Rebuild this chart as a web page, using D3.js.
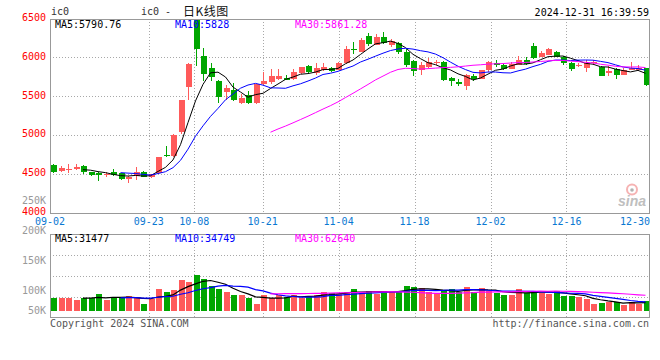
<!DOCTYPE html>
<html><head><meta charset="utf-8">
<script src="https://cdn.jsdelivr.net/npm/d3@7"></script>
<style>body{margin:0;background:#fff}svg{display:block}</style>
</head><body>
<svg id="c" width="660" height="360"></svg>
<script>
// ---------- data ----------
const dates = ["09-02","09-03","09-04","09-05","09-06","09-09","09-10","09-11","09-12","09-13",
"09-18","09-19","09-20","09-23","09-24","09-25","09-26","09-27","09-30","10-08",
"10-09","10-10","10-11","10-14","10-15","10-16","10-17","10-18","10-21","10-22",
"10-23","10-24","10-25","10-28","10-29","10-30","10-31","11-01","11-04","11-05",
"11-06","11-07","11-08","11-11","11-12","11-13","11-14","11-15","11-18","11-19",
"11-20","11-21","11-22","11-25","11-26","11-27","11-28","11-29","12-02","12-03",
"12-04","12-05","12-06","12-09","12-10","12-11","12-12","12-13","12-16","12-17",
"12-18","12-19","12-20","12-23","12-24","12-25","12-26","12-27","12-30","12-31"];
const openP = [4614,4532,4540,4562,4601,4514,4506,4481,4523,4506,
4433,4463,4523,4455,4506,4743,4721,5031,5618,6530,
6022,5863,5690,5548,5574,5411,5509,5411,5656,5677,
5721,5741,5721,5798,5893,5798,5832,5863,5841,5928,
6115,6070,6280,6164,6271,6164,6186,6077,5957,5841,
5871,5935,5944,5741,5677,5634,5764,5725,5832,5935,
5905,5850,5905,5970,6142,6005,6035,6065,6000,5935,
5884,5863,5935,5871,5800,5850,5776,5841,5841,5863];
const highP = [4627,4601,4618,4627,4614,4520,4523,4523,4558,4512,
4472,4579,4530,4500,4712,4850,5005,5450,5925,6540,
6129,5935,5711,5647,5669,5531,5561,5660,5806,5850,
5854,5776,5854,5880,5900,5935,5925,5880,5945,6142,
6199,6250,6315,6300,6328,6238,6195,6112,5965,5948,
5992,5965,5950,5750,5728,5790,5780,5840,5960,5970,
5925,5948,6022,6010,6186,6080,6125,6080,6022,5948,
5935,5970,5970,5884,5893,5860,5870,5948,5900,5870];
const lowP = [4510,4514,4506,4549,4493,4463,4398,4450,4463,4420,
4377,4411,4450,4442,4500,4713,4715,5014,5453,5884,
5690,5700,5411,5453,5432,5400,5405,5405,5650,5660,
5715,5705,5715,5790,5800,5770,5825,5810,5835,5920,
6047,6065,6150,6160,6170,6140,6045,5880,5764,5776,
5865,5900,5695,5625,5625,5574,5690,5720,5810,5880,
5840,5845,5900,5905,5980,6000,6030,6000,5900,5820,
5875,5815,5905,5760,5765,5725,5770,5835,5820,5635];
const closeP = [4514,4575,4562,4584,4514,4481,4481,4497,4475,4429,
4455,4523,4455,4493,4708,4721,5001,5444,5919,6109,
5789,5747,5488,5605,5453,5475,5411,5656,5690,5764,
5764,5712,5806,5871,5806,5863,5871,5819,5935,6109,
6105,6229,6173,6264,6186,6207,6077,5905,5828,5905,
5948,5948,5703,5690,5656,5776,5721,5832,5940,5905,
5854,5919,5970,5919,5992,6057,6112,6005,5928,5850,
5905,5935,5948,5764,5830,5770,5840,5863,5863,5640];
const volume = [50300,50300,50300,41600,50300,50300,64300,41600,50300,50300,
56700,54100,26500,44200,83200,71800,79400,117200,109600,136100,
121000,94500,83200,71800,60500,60500,49200,26500,60500,49200,
59400,52900,59400,49200,56700,62400,71800,69200,63100,73000,
83200,69200,75600,66200,75600,73000,75600,94500,90700,87000,
73000,64300,79400,83200,73000,90700,73000,87000,75600,69200,
60500,60500,83200,69200,75600,69200,64300,75600,57800,57800,
52900,45400,26500,30200,35200,35200,22700,35200,26500,38900];
const priceTicks = [4000,4500,5000,5500,6000,6500];
const dateTicks = ["09-02","09-23","10-08","10-21","11-04","11-18","12-02","12-16","12-30"];
const volTickLabels = ["250K","200K","150K","100K","50K"];
const maPeriods = [5,10,30];
const priceMALabels = ["MA5:5790.76","MA10:5828","MA30:5861.28"];
const volMALabels = ["MA5:31477","MA10:34749","MA30:62640"];
const symbol = "ic0";
const titleLeft = "ic0 -";
const titleRight = "日K线图";
const timestamp = "2024-12-31 16:39:59";
const copyright = "Copyright 2024 SINA.COM";
const siteUrl = "http://finance.sina.com.cn";

// ---------- layout ----------
const W = 660, H = 360;
const L = 50, R = 650;
const pTop = 18.8, pBot = 212.2;        // price scale extents
const vTop = 234.5, vBot = 317.5;       // volume panel border
const MONO = "'DejaVu Sans Mono', 'Liberation Mono', monospace";
const UP = "#ff5a5a", DOWN = "#00a600";
const maColors = ["#000000","#0000ff","#ff00ff"];
const GRID = "#a8a8a8", BORDER = "#999999";

const svg = d3.select("#c");
svg.append("rect").attr("width",W).attr("height",H).attr("fill","#fff");

const n = dates.length;
const x = d3.scaleBand().domain(dates).range([L, R]).paddingInner(0).paddingOuter(0);
const xGrid = d3.scaleLinear().domain([0, n-1]).range([L, R]);
const y = d3.scaleLinear().domain([4000, 6500]).range([pBot, pTop]);
const yv = d3.scaleLinear().domain([0, 290000]).range([311, vTop]);
const cx = d => x(d) + 3;

function movingAvg(arr, p){
  const out = [];
  for (let i = p-1; i < arr.length; i++){
    let s = 0; for (let k = i-p+1; k <= i; k++) s += arr[k];
    out.push({i, v: s/p});
  }
  return out;
}

// clip paths
const defs = svg.append("defs");
defs.append("clipPath").attr("id","pc").append("rect").attr("x",L).attr("y",19).attr("width",R-L).attr("height",pBot-19+1);
defs.append("clipPath").attr("id","vc").append("rect").attr("x",L).attr("y",vTop).attr("width",R-L).attr("height",vBot-vTop);

// ---------- grids ----------
const gridIdx = dateTicks.map(t => dates.indexOf(t)).filter(i => xGrid(i) > L+2 && xGrid(i) < R-10);
const g = svg.append("g").attr("shape-rendering","crispEdges").attr("stroke",GRID).attr("stroke-dasharray","1,2").attr("fill","none");
priceTicks.filter(v => v > 4000 && v < 6500).forEach(v => {
  g.append("line").attr("x1",L).attr("x2",R).attr("y1",Math.round(y(v))+0.5).attr("y2",Math.round(y(v))+0.5);
});
gridIdx.forEach(i => {
  const gx = Math.round(xGrid(i))+0.5;
  g.append("line").attr("x1",gx).attr("x2",gx).attr("y1",19).attr("y2",213);
  g.append("line").attr("x1",gx).attr("x2",gx).attr("y1",vTop).attr("y2",vBot);
});
[1,2,3].forEach(k => {
  const gy = Math.round(vTop + k*(vBot-vTop)/4)+0.5;
  g.append("line").attr("x1",L).attr("x2",R).attr("y1",gy).attr("y2",gy);
});

// ---------- candles ----------
const cg = svg.append("g").attr("clip-path","url(#pc)").attr("shape-rendering","crispEdges");
dates.forEach((d,i) => {
  const up = closeP[i] >= openP[i];
  const col = up ? UP : DOWN;
  const c = Math.round(cx(d)) + 0.5;
  cg.append("line").attr("x1",c).attr("x2",c).attr("y1",y(highP[i])).attr("y2",y(lowP[i])).attr("stroke",col);
  const top = y(Math.max(openP[i],closeP[i])), bot = y(Math.min(openP[i],closeP[i]));
  cg.append("rect").attr("x",Math.round(cx(d))-2.5+0.5).attr("width",5.5)
    .attr("y",top).attr("height",Math.max(1,bot-top)).attr("fill",col);
});

// price MAs
const lineGen = d3.line().x(p => cx(dates[p.i])).y(p => y(p.v));
maPeriods.forEach((p,k) => {
  cg.append("path").datum(movingAvg(closeP,p)).attr("d",lineGen)
    .attr("fill","none").attr("stroke",maColors[k]).attr("stroke-width",1).attr("shape-rendering","auto");
});

// ---------- volume ----------
const vg = svg.append("g").attr("clip-path","url(#vc)").attr("shape-rendering","crispEdges");
dates.forEach((d,i) => {
  const up = closeP[i] >= openP[i];
  vg.append("rect").attr("x",Math.round(cx(d))-2.5).attr("width",6)
    .attr("y",yv(volume[i])).attr("height",yv(0)-yv(volume[i])).attr("fill",up?UP:DOWN);
});
const vLine = d3.line().x(p => cx(dates[p.i])).y(p => yv(p.v));
maPeriods.forEach((p,k) => {
  vg.append("path").datum(movingAvg(volume,p)).attr("d",vLine)
    .attr("fill","none").attr("stroke",maColors[k]).attr("stroke-width",1.2).attr("shape-rendering","auto");
});

// ---------- borders ----------
const bg = svg.append("g").attr("fill","none").attr("stroke",BORDER).attr("shape-rendering","crispEdges");
bg.append("rect").attr("x",L+0.5).attr("y",19.5).attr("width",R-L-1).attr("height",213-19.5);
bg.append("rect").attr("x",L+0.5).attr("y",vTop).attr("width",R-L-1).attr("height",vBot-vTop);

// ---------- axis labels ----------
const T = svg.append("g").attr("font-family",MONO).attr("font-size",10);
priceTicks.forEach(v => {
  T.append("text").attr("x",46).attr("y",y(v)-1).attr("dy","0.35em").attr("text-anchor","end")
    .attr("fill","#ff0000").text(v);
});
const volLabelY = [200.7, 230.7, 260.7, 290.2, 310.7];
volTickLabels.forEach((s,k) => {
  T.append("text").attr("x",46).attr("y",volLabelY[k]).attr("dy","0.35em").attr("text-anchor","end")
    .attr("fill","#999999").text(s);
});
dateTicks.forEach(t => {
  const xi = xGrid(dates.indexOf(t));
  const last = xi + 15 > R;
  T.append("text").attr("x", last ? R : xi).attr("y",221.5).attr("dy","0.35em")
    .attr("text-anchor", last ? "end" : "middle").attr("fill","#0a78d2").text(t);
});

// ---------- header ----------
T.append("text").attr("x",51).attr("y",15).attr("fill","#333").text(symbol);
T.append("text").attr("x",141).attr("y",15).attr("fill","#333").text(titleLeft);
svg.append("text").attr("x",183).attr("y",16).attr("font-family","'Noto Sans CJK SC', sans-serif")
  .attr("font-size",12).attr("fill","#111").attr("letter-spacing","0.5").text(titleRight);
T.append("text").attr("x",649).attr("y",15.5).attr("text-anchor","end").attr("fill","#000").text(timestamp);
const maX = [55, 175, 295];
priceMALabels.forEach((s,k) => T.append("text").attr("x",maX[k]).attr("y",27.5).attr("fill",maColors[k]).text(s));
volMALabels.forEach((s,k) => T.append("text").attr("x",maX[k]).attr("y",242).attr("fill",maColors[k]).text(s));

// footer
T.append("text").attr("x",50).attr("y",327).attr("fill","#555").text(copyright);
T.append("text").attr("x",649).attr("y",327).attr("text-anchor","end").attr("fill","#555").text(siteUrl);

// sina watermark
const wm = svg.append("g").attr("opacity",0.75);
wm.append("circle").attr("cx",632).attr("cy",189.5).attr("r",5).attr("fill","none").attr("stroke","#f39a9a").attr("stroke-width",2);
wm.append("circle").attr("cx",632).attr("cy",190).attr("r",1.8).attr("fill","#999");
wm.append("text").attr("x",618).attr("y",206).attr("font-family","'Liberation Sans', Arial, sans-serif")
  .attr("font-style","italic").attr("font-weight","bold").attr("font-size",14).attr("fill","#aaaaaa").text("sina");
</script>
</body></html>
